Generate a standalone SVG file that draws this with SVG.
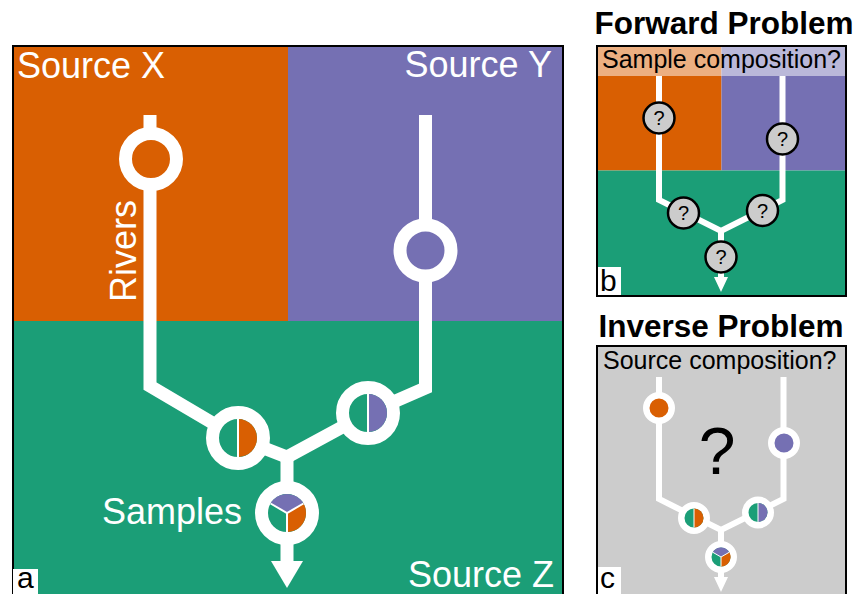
<svg xmlns="http://www.w3.org/2000/svg" width="862" height="594" viewBox="0 0 862 594">
<style>
.t{font-family:"Liberation Sans",Arial,sans-serif}
.b{font-weight:bold}
.wt{fill:#fff}
.bk{fill:#000}
.river{fill:none;stroke:#fff;stroke-width:13;stroke-linejoin:miter}
.riv-s{fill:none;stroke:#fff;stroke-width:6;stroke-linejoin:miter}
.ring{stroke:#fff;stroke-width:13}
.ring-s{stroke:#fff;stroke-width:6.5}
.q{fill:#ccc;stroke:#000;stroke-width:2.5}
.or{fill:#D95F02}
.pu{fill:#7570B3}
.gr{fill:#1B9E77}
.div{stroke:#fff;stroke-width:2;fill:none}
.div-s{stroke:#fff;stroke-width:1;fill:none}
.frame{fill:none;stroke:#000;stroke-width:2}
</style>
<rect width="862" height="594" fill="#fff"/>

<!-- Panel a background -->
<g id="panel-a">
<rect x="13" y="46" width="275" height="275" class="or"/>
<rect x="288" y="46" width="275" height="275" class="pu"/>
<rect x="13" y="321" width="550" height="276" class="gr"/>
<rect x="13" y="46" width="550" height="551" class="frame" stroke-width="1.5"/>
<text class="t wt" x="17" y="78" font-size="36">Source X</text>
<text class="t wt" x="552" y="77" font-size="36" text-anchor="end">Source Y</text>
<text class="t wt" x="554" y="587" font-size="36" text-anchor="end">Source Z</text>
<text class="t wt" font-size="36" transform="translate(136,302) rotate(-90)">Rivers</text>
<text class="t wt" x="102" y="524" font-size="36">Samples</text>
<rect x="13" y="569" width="25" height="28" fill="#fff"/>
<text class="t bk" x="17" y="588" font-size="30">a</text>
</g>

<!-- Panel b background -->
<g id="panel-b">
<text class="t b bk" x="724" y="34" font-size="31.5" text-anchor="middle">Forward Problem</text>
<rect x="597" y="46" width="124.5" height="124.5" class="or"/>
<rect x="721.5" y="46" width="124.5" height="124.5" class="pu"/>
<rect x="597" y="170.5" width="249" height="125.5" class="gr"/>
<rect x="597" y="46" width="249" height="30" fill="#fff" fill-opacity="0.5"/>
<text class="t bk" x="602" y="68" font-size="25">Sample composition?</text>
<rect x="597" y="267" width="24" height="29" fill="#fff"/>
<text class="t bk" x="600" y="291" font-size="30">b</text>
<rect x="597" y="46" width="249" height="250" class="frame"/>
</g>

<!-- Panel c background -->
<g id="panel-c">
<text class="t b bk" x="721" y="337" font-size="31.5" text-anchor="middle">Inverse Problem</text>
<rect x="597" y="346" width="249" height="250" fill="#ccc"/>
<text class="t bk" x="603" y="369" font-size="25">Source composition?</text>
<text class="t bk" x="717" y="474" font-size="66" text-anchor="middle">?</text>
<rect x="597" y="567" width="24" height="29" fill="#fff"/>
<text class="t bk" x="600" y="588" font-size="30">c</text>
<rect x="597" y="346" width="249" height="250" class="frame"/>
</g>

<!-- Connectors -->
<g id="connectors">
<path class="river" d="M150,115 V386 L238,438 L287,457 L368,413 L425.5,388 V115"/>
<path class="river" d="M287,457 V562"/>
<polygon fill="#fff" points="271,561 303,561 287,588"/>
<path class="riv-s" d="M659,76 V200 L721,231 L782.5,200 V76"/>
<path class="riv-s" d="M721,231 V278"/>
<polygon fill="#fff" points="714,277 728,277 721,292"/>
<path class="riv-s" d="M659,377 V499 L721,530 L783.5,499 V377"/>
<path class="riv-s" d="M721,530 V578"/>
<polygon fill="#fff" points="714,577 728,577 721,592"/>
</g>

<!-- Panel a nodes -->
<g id="a-source-x"><circle cx="151" cy="159" r="25.5" class="ring or"/></g>
<g id="a-source-y"><circle cx="425.5" cy="250.5" r="25.5" class="ring pu"/></g>
<g id="a-mix-left">
<circle cx="238" cy="438" r="25.5" class="ring gr"/>
<path class="or" d="M238,419 A19,19 0 0 1 238,457 Z"/>
<path class="div" d="M238,419 V457"/>
</g>
<g id="a-mix-right">
<circle cx="368" cy="413" r="25.5" class="ring gr"/>
<path class="pu" d="M368,394 A19,19 0 0 1 368,432 Z"/>
<path class="div" d="M368,394 V432"/>
</g>
<g id="a-sample">
<circle cx="287" cy="513" r="25.5" class="ring gr"/>
<path class="pu" d="M287,513 L270.55,503.5 A19,19 0 0 1 303.45,503.5 Z"/>
<path class="or" d="M287,513 L303.45,503.5 A19,19 0 0 1 287,532 Z"/>
<path class="div" d="M270.55,503.5 L287,513 L303.45,503.5 M287,513 V532"/>
</g>

<!-- Panel b nodes -->
<g id="b-q1"><circle cx="659" cy="118" r="15.5" class="q"/><text class="t bk" x="659" y="125" font-size="20" text-anchor="middle">?</text></g>
<g id="b-q2"><circle cx="782.5" cy="139" r="15.5" class="q"/><text class="t bk" x="782.5" y="146" font-size="20" text-anchor="middle">?</text></g>
<g id="b-q3"><circle cx="683.5" cy="213" r="15.5" class="q"/><text class="t bk" x="683.5" y="220" font-size="20" text-anchor="middle">?</text></g>
<g id="b-q4"><circle cx="762.5" cy="210.5" r="15.5" class="q"/><text class="t bk" x="762.5" y="217.5" font-size="20" text-anchor="middle">?</text></g>
<g id="b-q5"><circle cx="721" cy="257" r="15.5" class="q"/><text class="t bk" x="721" y="264" font-size="20" text-anchor="middle">?</text></g>

<!-- Panel c nodes -->
<g id="c-source-x"><circle cx="659" cy="408" r="12.75" class="ring-s or"/></g>
<g id="c-source-y"><circle cx="784" cy="443" r="12.75" class="ring-s pu"/></g>
<g id="c-mix-left">
<circle cx="694" cy="518" r="12.75" class="ring-s gr"/>
<path class="or" d="M694,508.5 A9.5,9.5 0 0 1 694,527.5 Z"/>
<path class="div-s" d="M694,508.5 V527.5"/>
</g>
<g id="c-mix-right">
<circle cx="758" cy="512.5" r="12.75" class="ring-s gr"/>
<path class="pu" d="M758,503 A9.5,9.5 0 0 1 758,522 Z"/>
<path class="div-s" d="M758,503 V522"/>
</g>
<g id="c-sample">
<circle cx="721" cy="557" r="12.75" class="ring-s gr"/>
<path class="pu" d="M721,557 L712.77,552.25 A9.5,9.5 0 0 1 729.23,552.25 Z"/>
<path class="or" d="M721,557 L729.23,552.25 A9.5,9.5 0 0 1 721,566.5 Z"/>
<path class="div-s" d="M712.77,552.25 L721,557 L729.23,552.25 M721,557 V566.5"/>
</g>
</svg>
